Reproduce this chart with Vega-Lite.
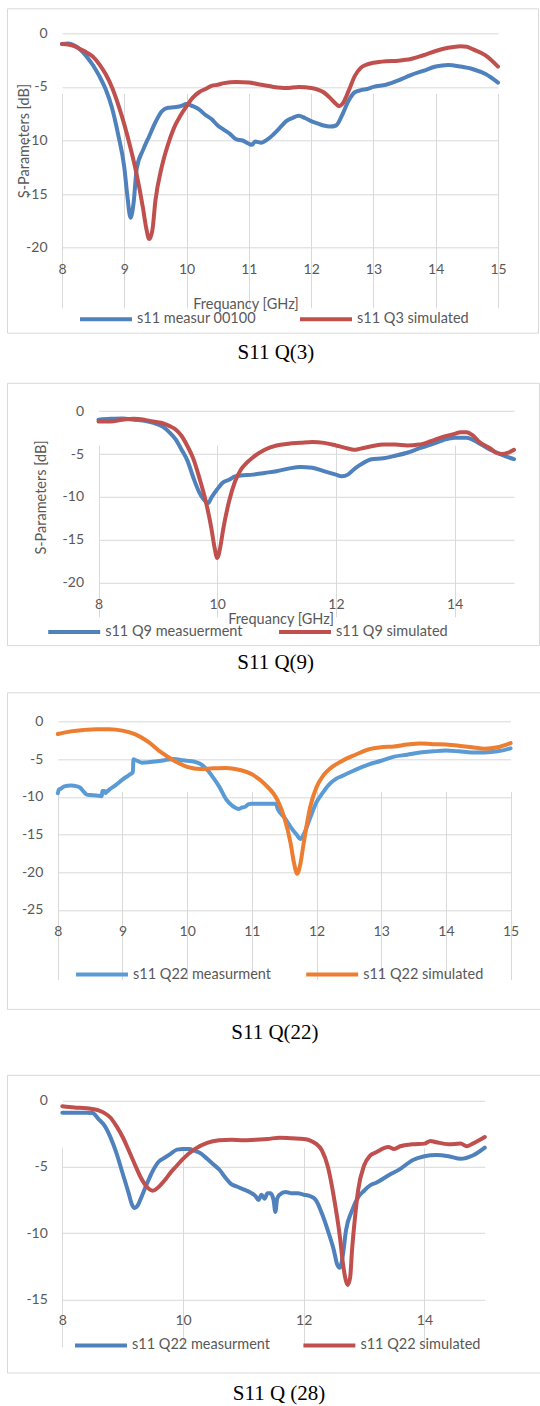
{
"$schema": "https://vega.github.io/schema/vega-lite/v6.json",
"padding": {"left": 6, "top": 7.3, "right": 0, "bottom": 0},
"background": "white",
"config": {
  "view": {"stroke": "#D9D9D9", "strokeWidth": 1},
  "font": "Lato",
  "axis": {"domain": false, "ticks": false, "tickSize": 0, "grid": true, "gridColor": "#D9D9D9", "gridWidth": 1, "labelFont": "Lato", "labelFontSize": 14, "labelColor": "#595959", "labelFlush": false, "labelOverlap": false, "titleFont": "Lato", "titleFontSize": 14.5, "titleFontWeight": "normal", "titleColor": "#595959"},
  "axisX": {"labelBaseline": "middle", "labelPadding": 21.5, "labelAlign": "center"},
  "axisY": {"labelPadding": 15, "labelBaseline": "middle", "labelAlign": "right"},
  "legend": {"direction": "horizontal", "symbolType": "stroke", "symbolSize": 2700, "symbolStrokeWidth": 4, "labelFont": "Lato", "labelFontSize": 14.5, "labelColor": "#595959", "labelOffset": 3, "labelLimit": 300, "padding": 0},
  "title": {"font": "Liberation Serif", "fontSize": 21, "fontWeight": "normal", "color": "#000000", "orient": "bottom", "anchor": "middle"}
},
"datasets": {
  "p1m": [{"f":8,"v":-1.0},{"f":8.1,"v":-0.95},{"f":8.2,"v":-1.15},{"f":8.3,"v":-1.55},{"f":8.4,"v":-2.2},{"f":8.5,"v":-3.0},{"f":8.6,"v":-4.0},{"f":8.7,"v":-5.2},{"f":8.8,"v":-6.9},{"f":8.9,"v":-9.4},{"f":9.0,"v":-12.5},{"f":9.05,"v":-15.2},{"f":9.1,"v":-17.2},{"f":9.15,"v":-15.8},{"f":9.2,"v":-12.6},{"f":9.3,"v":-10.9},{"f":9.4,"v":-9.6},{"f":9.5,"v":-8.3},{"f":9.6,"v":-7.3},{"f":9.7,"v":-6.95},{"f":9.8,"v":-6.9},{"f":9.9,"v":-6.8},{"f":10.0,"v":-6.6},{"f":10.1,"v":-6.8},{"f":10.2,"v":-7.1},{"f":10.3,"v":-7.6},{"f":10.4,"v":-8.0},{"f":10.5,"v":-8.6},{"f":10.6,"v":-9.0},{"f":10.7,"v":-9.4},{"f":10.8,"v":-9.9},{"f":10.9,"v":-10.0},{"f":11.0,"v":-10.3},{"f":11.05,"v":-10.4},{"f":11.1,"v":-10.1},{"f":11.2,"v":-10.2},{"f":11.3,"v":-9.9},{"f":11.4,"v":-9.4},{"f":11.5,"v":-8.8},{"f":11.6,"v":-8.2},{"f":11.7,"v":-7.9},{"f":11.8,"v":-7.7},{"f":11.9,"v":-7.9},{"f":12.0,"v":-8.2},{"f":12.1,"v":-8.4},{"f":12.2,"v":-8.6},{"f":12.3,"v":-8.7},{"f":12.4,"v":-8.6},{"f":12.5,"v":-7.6},{"f":12.6,"v":-6.3},{"f":12.7,"v":-5.5},{"f":12.8,"v":-5.3},{"f":12.9,"v":-5.2},{"f":13.0,"v":-5.0},{"f":13.2,"v":-4.8},{"f":13.4,"v":-4.4},{"f":13.6,"v":-3.9},{"f":13.8,"v":-3.5},{"f":14.0,"v":-3.1},{"f":14.2,"v":-2.95},{"f":14.4,"v":-3.1},{"f":14.6,"v":-3.35},{"f":14.8,"v":-3.8},{"f":15.0,"v":-4.6}],
  "p1s": [{"f":8,"v":-1.0},{"f":8.1,"v":-1.05},{"f":8.2,"v":-1.2},{"f":8.3,"v":-1.5},{"f":8.4,"v":-1.8},{"f":8.5,"v":-2.2},{"f":8.6,"v":-2.9},{"f":8.7,"v":-3.8},{"f":8.8,"v":-5.0},{"f":8.9,"v":-6.6},{"f":9.0,"v":-8.5},{"f":9.1,"v":-10.7},{"f":9.2,"v":-13.2},{"f":9.3,"v":-16.3},{"f":9.35,"v":-18.1},{"f":9.4,"v":-19.2},{"f":9.45,"v":-18.4},{"f":9.5,"v":-15.6},{"f":9.6,"v":-12.5},{"f":9.7,"v":-10.4},{"f":9.8,"v":-8.8},{"f":9.9,"v":-7.7},{"f":10.0,"v":-6.8},{"f":10.1,"v":-6.0},{"f":10.2,"v":-5.5},{"f":10.3,"v":-5.2},{"f":10.4,"v":-4.9},{"f":10.5,"v":-4.8},{"f":10.6,"v":-4.65},{"f":10.8,"v":-4.55},{"f":11.0,"v":-4.6},{"f":11.2,"v":-4.8},{"f":11.4,"v":-5.0},{"f":11.6,"v":-5.1},{"f":11.8,"v":-5.0},{"f":12.0,"v":-5.1},{"f":12.2,"v":-5.5},{"f":12.3,"v":-6.0},{"f":12.4,"v":-6.6},{"f":12.45,"v":-6.8},{"f":12.5,"v":-6.6},{"f":12.6,"v":-5.4},{"f":12.7,"v":-4.0},{"f":12.8,"v":-3.2},{"f":12.9,"v":-2.9},{"f":13.0,"v":-2.75},{"f":13.2,"v":-2.6},{"f":13.4,"v":-2.55},{"f":13.6,"v":-2.4},{"f":13.8,"v":-2.05},{"f":14.0,"v":-1.65},{"f":14.2,"v":-1.35},{"f":14.4,"v":-1.2},{"f":14.5,"v":-1.25},{"f":14.6,"v":-1.5},{"f":14.8,"v":-2.05},{"f":15.0,"v":-3.1}],
  "p2m": [{"f":8,"v":-1.0},{"f":8.2,"v":-0.9},{"f":8.4,"v":-0.85},{"f":8.6,"v":-1.0},{"f":8.8,"v":-1.15},{"f":9.0,"v":-1.55},{"f":9.1,"v":-1.9},{"f":9.2,"v":-2.5},{"f":9.3,"v":-3.3},{"f":9.4,"v":-4.5},{"f":9.5,"v":-5.8},{"f":9.6,"v":-7.8},{"f":9.7,"v":-9.5},{"f":9.8,"v":-10.5},{"f":9.85,"v":-10.7},{"f":9.9,"v":-10.1},{"f":10.0,"v":-9.1},{"f":10.1,"v":-8.3},{"f":10.2,"v":-8.0},{"f":10.3,"v":-7.6},{"f":10.4,"v":-7.5},{"f":10.6,"v":-7.4},{"f":10.8,"v":-7.2},{"f":11.0,"v":-7.0},{"f":11.2,"v":-6.7},{"f":11.4,"v":-6.5},{"f":11.6,"v":-6.6},{"f":11.8,"v":-7.0},{"f":12.0,"v":-7.4},{"f":12.1,"v":-7.6},{"f":12.2,"v":-7.4},{"f":12.3,"v":-6.8},{"f":12.4,"v":-6.3},{"f":12.6,"v":-5.6},{"f":12.8,"v":-5.5},{"f":13.0,"v":-5.2},{"f":13.2,"v":-4.85},{"f":13.4,"v":-4.35},{"f":13.6,"v":-3.9},{"f":13.8,"v":-3.4},{"f":14.0,"v":-3.1},{"f":14.2,"v":-3.1},{"f":14.4,"v":-3.7},{"f":14.6,"v":-4.5},{"f":14.8,"v":-5.1},{"f":15.0,"v":-5.6}],
  "p2s": [{"f":8,"v":-1.2},{"f":8.2,"v":-1.2},{"f":8.4,"v":-1.0},{"f":8.6,"v":-0.9},{"f":8.8,"v":-1.05},{"f":9.0,"v":-1.3},{"f":9.1,"v":-1.45},{"f":9.2,"v":-1.75},{"f":9.3,"v":-2.15},{"f":9.4,"v":-2.9},{"f":9.5,"v":-4.1},{"f":9.6,"v":-5.6},{"f":9.7,"v":-7.8},{"f":9.8,"v":-10.3},{"f":9.9,"v":-13.6},{"f":9.95,"v":-15.7},{"f":10.0,"v":-17.1},{"f":10.05,"v":-15.9},{"f":10.1,"v":-13.8},{"f":10.2,"v":-10.5},{"f":10.3,"v":-8.2},{"f":10.4,"v":-6.8},{"f":10.5,"v":-6.0},{"f":10.6,"v":-5.4},{"f":10.8,"v":-4.5},{"f":11.0,"v":-4.0},{"f":11.2,"v":-3.8},{"f":11.4,"v":-3.7},{"f":11.6,"v":-3.6},{"f":11.8,"v":-3.7},{"f":12.0,"v":-4.0},{"f":12.2,"v":-4.35},{"f":12.3,"v":-4.5},{"f":12.4,"v":-4.4},{"f":12.6,"v":-4.1},{"f":12.8,"v":-3.9},{"f":13.0,"v":-3.9},{"f":13.2,"v":-4.0},{"f":13.4,"v":-3.9},{"f":13.6,"v":-3.5},{"f":13.8,"v":-3.0},{"f":14.0,"v":-2.65},{"f":14.1,"v":-2.45},{"f":14.2,"v":-2.45},{"f":14.3,"v":-2.8},{"f":14.4,"v":-3.5},{"f":14.6,"v":-4.35},{"f":14.7,"v":-4.85},{"f":14.8,"v":-5.0},{"f":14.9,"v":-4.85},{"f":15.0,"v":-4.5}],
  "p3m": [{"f":8,"v":-9.5},{"f":8.02,"v":-9.0},{"f":8.05,"v":-8.9},{"f":8.1,"v":-8.6},{"f":8.2,"v":-8.5},{"f":8.3,"v":-8.6},{"f":8.35,"v":-8.8},{"f":8.4,"v":-9.3},{"f":8.45,"v":-9.7},{"f":8.5,"v":-9.75},{"f":8.6,"v":-9.8},{"f":8.68,"v":-9.9},{"f":8.69,"v":-9.2},{"f":8.72,"v":-9.2},{"f":8.74,"v":-9.5},{"f":8.76,"v":-9.3},{"f":8.8,"v":-9.0},{"f":8.9,"v":-8.4},{"f":9.0,"v":-7.7},{"f":9.1,"v":-7.1},{"f":9.16,"v":-6.7},{"f":9.17,"v":-5.0},{"f":9.2,"v":-5.1},{"f":9.3,"v":-5.45},{"f":9.4,"v":-5.4},{"f":9.5,"v":-5.3},{"f":9.6,"v":-5.2},{"f":9.7,"v":-5.05},{"f":9.8,"v":-4.95},{"f":9.9,"v":-5.1},{"f":10.0,"v":-5.2},{"f":10.1,"v":-5.3},{"f":10.2,"v":-5.6},{"f":10.3,"v":-6.3},{"f":10.4,"v":-7.4},{"f":10.5,"v":-8.7},{"f":10.6,"v":-10.3},{"f":10.7,"v":-11.2},{"f":10.8,"v":-11.6},{"f":10.85,"v":-11.4},{"f":10.9,"v":-11.3},{"f":10.95,"v":-10.95},{"f":11.0,"v":-10.9},{"f":11.2,"v":-10.9},{"f":11.37,"v":-10.9},{"f":11.4,"v":-11.6},{"f":11.5,"v":-12.7},{"f":11.6,"v":-14.0},{"f":11.7,"v":-15.1},{"f":11.75,"v":-15.6},{"f":11.8,"v":-15.0},{"f":11.9,"v":-12.8},{"f":12.0,"v":-10.7},{"f":12.1,"v":-9.4},{"f":12.2,"v":-8.3},{"f":12.3,"v":-7.6},{"f":12.4,"v":-7.2},{"f":12.6,"v":-6.4},{"f":12.8,"v":-5.7},{"f":13.0,"v":-5.2},{"f":13.2,"v":-4.65},{"f":13.4,"v":-4.4},{"f":13.6,"v":-4.1},{"f":13.8,"v":-3.95},{"f":14.0,"v":-3.85},{"f":14.2,"v":-3.95},{"f":14.4,"v":-4.1},{"f":14.6,"v":-4.1},{"f":14.8,"v":-3.95},{"f":15.0,"v":-3.55}],
  "p3s": [{"f":8,"v":-1.65},{"f":8.2,"v":-1.3},{"f":8.4,"v":-1.1},{"f":8.6,"v":-1.0},{"f":8.8,"v":-1.0},{"f":9.0,"v":-1.2},{"f":9.2,"v":-1.7},{"f":9.4,"v":-2.7},{"f":9.6,"v":-4.1},{"f":9.8,"v":-5.2},{"f":10.0,"v":-6.0},{"f":10.2,"v":-6.3},{"f":10.4,"v":-6.2},{"f":10.6,"v":-6.15},{"f":10.8,"v":-6.4},{"f":11.0,"v":-7.0},{"f":11.2,"v":-8.3},{"f":11.4,"v":-10.5},{"f":11.5,"v":-12.7},{"f":11.6,"v":-16.2},{"f":11.65,"v":-18.7},{"f":11.7,"v":-20.2},{"f":11.75,"v":-18.9},{"f":11.8,"v":-16.2},{"f":11.9,"v":-11.4},{"f":12.0,"v":-8.7},{"f":12.1,"v":-7.2},{"f":12.2,"v":-6.3},{"f":12.4,"v":-5.2},{"f":12.6,"v":-4.4},{"f":12.8,"v":-3.7},{"f":13.0,"v":-3.4},{"f":13.2,"v":-3.3},{"f":13.4,"v":-3.05},{"f":13.6,"v":-2.9},{"f":13.8,"v":-3.0},{"f":14.0,"v":-3.05},{"f":14.2,"v":-3.2},{"f":14.4,"v":-3.4},{"f":14.6,"v":-3.6},{"f":14.8,"v":-3.4},{"f":15.0,"v":-2.85}],
  "p4m": [{"f":8,"v":-0.93},{"f":8.2,"v":-0.93},{"f":8.4,"v":-0.93},{"f":8.5,"v":-0.95},{"f":8.6,"v":-1.4},{"f":8.7,"v":-1.9},{"f":8.8,"v":-2.8},{"f":8.9,"v":-4.0},{"f":9.0,"v":-5.5},{"f":9.1,"v":-7.0},{"f":9.15,"v":-7.8},{"f":9.2,"v":-8.1},{"f":9.25,"v":-7.9},{"f":9.3,"v":-7.4},{"f":9.4,"v":-6.3},{"f":9.5,"v":-5.3},{"f":9.6,"v":-4.6},{"f":9.7,"v":-4.3},{"f":9.8,"v":-4.0},{"f":9.9,"v":-3.7},{"f":10.0,"v":-3.65},{"f":10.1,"v":-3.65},{"f":10.2,"v":-3.8},{"f":10.3,"v":-4.0},{"f":10.4,"v":-4.4},{"f":10.5,"v":-4.8},{"f":10.6,"v":-5.2},{"f":10.7,"v":-5.8},{"f":10.8,"v":-6.3},{"f":10.9,"v":-6.5},{"f":11.0,"v":-6.7},{"f":11.1,"v":-6.9},{"f":11.2,"v":-7.2},{"f":11.25,"v":-7.5},{"f":11.3,"v":-7.1},{"f":11.35,"v":-7.4},{"f":11.4,"v":-7.0},{"f":11.45,"v":-7.0},{"f":11.5,"v":-7.5},{"f":11.53,"v":-8.4},{"f":11.56,"v":-7.4},{"f":11.6,"v":-7.1},{"f":11.7,"v":-6.9},{"f":11.8,"v":-7.0},{"f":11.9,"v":-7.0},{"f":12.0,"v":-7.1},{"f":12.1,"v":-7.2},{"f":12.2,"v":-7.5},{"f":12.3,"v":-8.5},{"f":12.4,"v":-9.8},{"f":12.5,"v":-11.3},{"f":12.55,"v":-12.3},{"f":12.6,"v":-12.6},{"f":12.65,"v":-11.6},{"f":12.7,"v":-9.8},{"f":12.8,"v":-8.3},{"f":12.9,"v":-7.3},{"f":13.0,"v":-6.8},{"f":13.1,"v":-6.4},{"f":13.2,"v":-6.2},{"f":13.4,"v":-5.65},{"f":13.6,"v":-5.15},{"f":13.8,"v":-4.5},{"f":14.0,"v":-4.2},{"f":14.2,"v":-4.1},{"f":14.4,"v":-4.2},{"f":14.6,"v":-4.4},{"f":14.8,"v":-4.15},{"f":15.0,"v":-3.55}],
  "p4s": [{"f":8,"v":-0.43},{"f":8.2,"v":-0.53},{"f":8.4,"v":-0.58},{"f":8.6,"v":-0.75},{"f":8.7,"v":-0.95},{"f":8.8,"v":-1.3},{"f":8.9,"v":-1.95},{"f":9.0,"v":-2.75},{"f":9.1,"v":-3.75},{"f":9.2,"v":-4.8},{"f":9.3,"v":-5.8},{"f":9.4,"v":-6.5},{"f":9.5,"v":-6.8},{"f":9.6,"v":-6.5},{"f":9.7,"v":-6.0},{"f":9.8,"v":-5.4},{"f":9.9,"v":-4.9},{"f":10.0,"v":-4.4},{"f":10.2,"v":-3.65},{"f":10.4,"v":-3.2},{"f":10.6,"v":-3.0},{"f":10.8,"v":-2.95},{"f":11.0,"v":-3.0},{"f":11.2,"v":-2.95},{"f":11.4,"v":-2.9},{"f":11.6,"v":-2.8},{"f":11.8,"v":-2.85},{"f":12.0,"v":-2.9},{"f":12.1,"v":-3.0},{"f":12.2,"v":-3.25},{"f":12.3,"v":-3.75},{"f":12.4,"v":-5.0},{"f":12.5,"v":-7.3},{"f":12.6,"v":-10.3},{"f":12.65,"v":-12.3},{"f":12.7,"v":-13.6},{"f":12.73,"v":-13.9},{"f":12.77,"v":-13.3},{"f":12.8,"v":-11.3},{"f":12.85,"v":-8.8},{"f":12.9,"v":-6.8},{"f":13.0,"v":-4.9},{"f":13.1,"v":-4.15},{"f":13.2,"v":-3.9},{"f":13.4,"v":-3.5},{"f":13.5,"v":-3.65},{"f":13.6,"v":-3.45},{"f":13.8,"v":-3.3},{"f":14.0,"v":-3.25},{"f":14.1,"v":-3.05},{"f":14.2,"v":-3.15},{"f":14.4,"v":-3.3},{"f":14.6,"v":-3.25},{"f":14.7,"v":-3.45},{"f":14.8,"v":-3.25},{"f":15.0,"v":-2.75}]
},
"spacing": 30.5,
"resolve": {"scale": {"color": "independent"}, "legend": {"color": "independent"}},
"vconcat": [
 {
  "spacing": 17.5,
  "resolve": {"scale": {"color": "independent"}, "legend": {"color": "independent"}},
  "vconcat": [
   {
    "width": 531, "height": 324.4,
    "title": {"text": "S11 Q(3)", "orient": "bottom", "offset": 9.3, "dx": 3.4},
    "layer": [
     {"data": {"name": "p1m"}, "mark": {"type": "line", "strokeWidth": 4, "interpolate": "monotone", "strokeCap": "round", "strokeJoin": "round"},
      "encoding": {
       "x": {"field": "f", "type": "quantitative", "scale": {"domain": [8, 15], "range": [55, 491], "nice": false, "zero": false}, "axis": {"values": [8,9,10,11,12,13,14,15], "tickCount": 20, "offset": -85, "labelExpr": "toString(datum.value)", "labelOverlap": false, "title": "Frequancy [GHz]", "titleX": 238.5, "titleY": 56.6, "titleBaseline": "middle"}},
       "y": {"field": "v", "type": "quantitative", "scale": {"domain": [-20, 0], "range": [239.4, 25], "nice": false, "zero": false}, "axis": {"values": [0,-5,-10,-15,-20], "tickCount": 20, "offset": -55, "labelOverlap": false, "title": "S-Parameters [dB]", "titleX": -37.6, "titleBaseline": "middle", "labelExpr": "toString(datum.value)"}},
       "color": {"datum": "s11 measur 00100", "type": "nominal", "scale": {"domain": ["s11 measur 00100", "s11 Q3 simulated"], "range": ["#4F81BD", "#C0504D"]}, "legend": {"orient": "none", "legendX": 71, "legendY": 283, "direction": "horizontal", "columnPadding": 35, "title": null}}
      }},
     {"data": {"name": "p1s"}, "mark": {"type": "line", "strokeWidth": 4, "interpolate": "monotone", "strokeCap": "round", "strokeJoin": "round"},
      "encoding": {
       "x": {"field": "f", "type": "quantitative", "scale": {"domain": [8, 15], "range": [55, 491], "nice": false, "zero": false}},
       "y": {"field": "v", "type": "quantitative", "scale": {"domain": [-20, 0], "range": [239.4, 25], "nice": false, "zero": false}},
       "color": {"datum": "s11 Q3 simulated", "type": "nominal"}
      }}
    ]
   },
   {
    "width": 532, "height": 262.3,
    "title": {"text": "S11 Q(9)", "orient": "bottom", "offset": 6.5, "dx": 2.7},
    "layer": [
     {"data": {"name": "p2m"}, "mark": {"type": "line", "strokeWidth": 4, "interpolate": "monotone", "strokeCap": "round", "strokeJoin": "round"},
      "encoding": {
       "x": {"field": "f", "type": "quantitative", "scale": {"domain": [8, 15], "range": [91.5, 507], "nice": false, "zero": false}, "axis": {"values": [8,10,12,14], "tickCount": 20, "offset": -62.3, "labelExpr": "toString(datum.value)", "labelOverlap": false, "title": "Frequancy [GHz]", "titleX": 273.6, "titleY": 36.6, "titleBaseline": "middle"}},
       "y": {"field": "v", "type": "quantitative", "scale": {"domain": [-20, 0], "range": [200, 28.3], "nice": false, "zero": false}, "axis": {"values": [0,-5,-10,-15,-20], "tickCount": 20, "offset": -91.5, "labelOverlap": false, "title": "S-Parameters [dB]", "titleX": -56.9, "titleBaseline": "middle", "labelExpr": "toString(datum.value)"}},
       "color": {"datum": "s11 Q9 measuerment", "type": "nominal", "scale": {"domain": ["s11 Q9 measuerment", "s11 Q9 simulated"], "range": ["#4F81BD", "#C0504D"]}, "legend": {"orient": "none", "legendX": 39.2, "legendY": 221.3, "direction": "horizontal", "columnPadding": 27.8, "title": null}}
      }},
     {"data": {"name": "p2s"}, "mark": {"type": "line", "strokeWidth": 4, "interpolate": "monotone", "strokeCap": "round", "strokeJoin": "round"},
      "encoding": {
       "x": {"field": "f", "type": "quantitative", "scale": {"domain": [8, 15], "range": [91.5, 507], "nice": false, "zero": false}},
       "y": {"field": "v", "type": "quantitative", "scale": {"domain": [-20, 0], "range": [200, 28.3], "nice": false, "zero": false}},
       "color": {"datum": "s11 Q9 simulated", "type": "nominal"}
      }}
    ]
   },
   {
    "width": 533, "height": 316.6,
    "title": {"text": "S11 Q(22)", "orient": "bottom", "offset": 12.7, "dx": 1.4},
    "layer": [
     {"data": {"name": "p3m"}, "mark": {"type": "line", "strokeWidth": 4, "interpolate": "monotone", "strokeCap": "round", "strokeJoin": "round"},
      "encoding": {
       "x": {"field": "f", "type": "quantitative", "scale": {"domain": [8, 15], "range": [50.8, 503.6], "nice": false, "zero": false}, "axis": {"values": [8,9,10,11,12,13,14,15], "tickCount": 20, "offset": -99, "labelExpr": "toString(datum.value)", "labelOverlap": false, "title": null}},
       "y": {"field": "v", "type": "quantitative", "scale": {"domain": [-25, 0], "range": [217.6, 29.3], "nice": false, "zero": false}, "axis": {"values": [0,-5,-10,-15,-20,-25], "tickCount": 20, "offset": -50.8, "labelOverlap": false, "title": null, "labelExpr": "toString(datum.value)"}},
       "color": {"datum": "s11 Q22 measurment", "type": "nominal", "scale": {"domain": ["s11 Q22 measurment", "s11 Q22 simulated"], "range": ["#5B9BD5", "#ED7D31"]}, "legend": {"orient": "none", "legendX": 67, "legendY": 254.3, "direction": "horizontal", "columnPadding": 26.2, "title": null}}
      }},
     {"data": {"name": "p3s"}, "mark": {"type": "line", "strokeWidth": 4, "interpolate": "monotone", "strokeCap": "round", "strokeJoin": "round"},
      "encoding": {
       "x": {"field": "f", "type": "quantitative", "scale": {"domain": [8, 15], "range": [50.8, 503.6], "nice": false, "zero": false}},
       "y": {"field": "v", "type": "quantitative", "scale": {"domain": [-25, 0], "range": [217.6, 29.3], "nice": false, "zero": false}},
       "color": {"datum": "s11 Q22 simulated", "type": "nominal"}
      }}
    ]
   }
  ]
 },
 {
  "width": 533, "height": 297.7,
  "title": {"text": "S11 Q (28)", "orient": "bottom", "offset": 11, "dx": 5.5},
  "layer": [
   {"data": {"name": "p4m"}, "mark": {"type": "line", "strokeWidth": 4, "interpolate": "monotone", "strokeCap": "round", "strokeJoin": "round"},
    "encoding": {
     "x": {"field": "f", "type": "quantitative", "scale": {"domain": [8, 15], "range": [55.3, 477.8], "nice": false, "zero": false}, "axis": {"values": [8,10,12,14], "tickCount": 20, "offset": -73, "labelExpr": "toString(datum.value)", "labelOverlap": false, "title": null}},
     "y": {"field": "v", "type": "quantitative", "scale": {"domain": [-15, 0], "range": [224.7, 25.7], "nice": false, "zero": false}, "axis": {"values": [0,-5,-10,-15], "tickCount": 20, "offset": -55.3, "labelOverlap": false, "title": null, "labelExpr": "toString(datum.value)"}},
     "color": {"datum": "s11 Q22 measurment ", "type": "nominal", "scale": {"domain": ["s11 Q22 measurment ", "s11 Q22 simulated "], "range": ["#4F81BD", "#C0504D"]}, "legend": {"orient": "none", "legendX": 66, "legendY": 242.7, "direction": "horizontal", "columnPadding": 24.4, "title": null}}
    }},
   {"data": {"name": "p4s"}, "mark": {"type": "line", "strokeWidth": 4, "interpolate": "monotone", "strokeCap": "round", "strokeJoin": "round"},
    "encoding": {
     "x": {"field": "f", "type": "quantitative", "scale": {"domain": [8, 15], "range": [55.3, 477.8], "nice": false, "zero": false}},
     "y": {"field": "v", "type": "quantitative", "scale": {"domain": [-15, 0], "range": [224.7, 25.7], "nice": false, "zero": false}},
     "color": {"datum": "s11 Q22 simulated ", "type": "nominal"}
    }}
  ]
 }
]
}
